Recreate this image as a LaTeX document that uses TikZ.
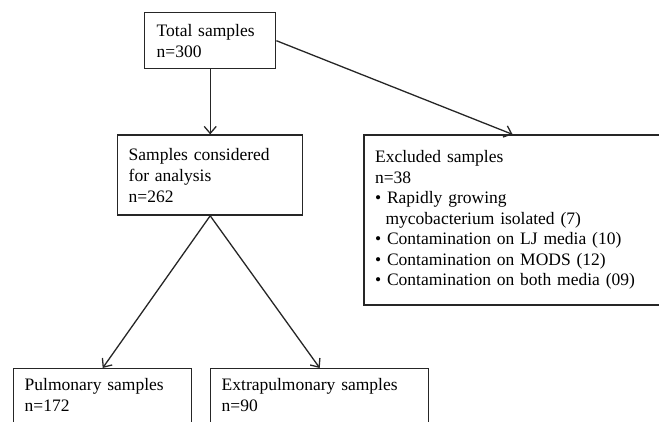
\documentclass[tikz,border=0pt]{standalone}
\usepackage{fontspec}
\setmainfont{Liberation Serif}
\usetikzlibrary{positioning,arrows.meta}

\begin{document}
\begin{tikzpicture}[
                x=1pt, y=-1pt,
                samplebox/.style={rectangle, draw=black!85, line width=1.4pt, align=left, inner xsep=11pt, inner ysep=10pt, font=\fontsize{17.5}{21}\selectfont},
                flow/.style={draw=black!85, line width=1.3pt, -{Straight Barb[length=7pt,width=12pt]}},
            ]
            \useasboundingbox (0,0) rectangle (659,422);
            \clip (0,0) rectangle (659,422);
            \node[samplebox, text width=107pt, minimum height=56pt, inner xsep=12pt, anchor=north west] (total) at (144,12) {Total samples\\n=300};
            \node[samplebox, text width=163pt, minimum height=80pt] (considered) [below = 65pt of total] {Samples considered\\for analysis\\n=262};
            \node[samplebox, text width=275pt, minimum height=170pt, font=\fontsize{17.5}{20.5}\selectfont] (excluded) [right = 60pt of considered.north east, anchor=north west] {Excluded samples\\n=38\\\textbullet\ Rapidly growing\\\hspace*{10.5pt}mycobacterium isolated (7)\\\textbullet\ Contamination on LJ media (10)\\\textbullet\ Contamination on MODS (12)\\\textbullet\ Contamination on both media (09)};
            \node[samplebox, text width=156pt, text depth=30pt, anchor=north west] (pulmonary) at (13,368) {Pulmonary samples\\n=172};
            \node[samplebox, text width=196pt, text depth=30pt, anchor=north west] (extrapulmonary) at (210,368) {Extrapulmonary samples\\n=90};

            \draw[flow] (total.south) -- (considered.north);
            \draw[flow] (total.east) -- (excluded.north);
            \draw[flow] (considered.south) -- (pulmonary.north);
            \draw[flow] (considered.south) -- (extrapulmonary.north);
        \end{tikzpicture}
\end{document}
